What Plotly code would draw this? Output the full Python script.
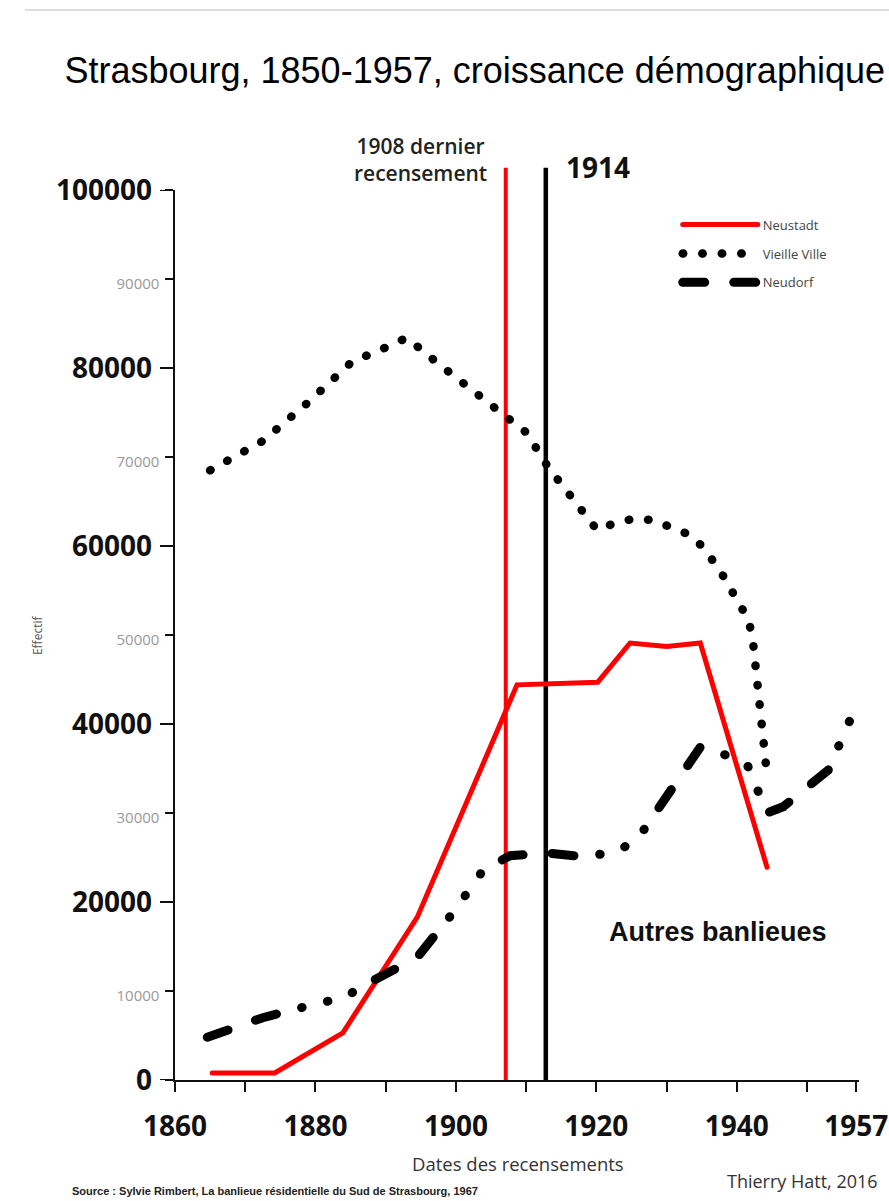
import plotly.graph_objects as go

# ---------------- data ----------------
neustadt_years = [1865.3, 1874.2, 1883.9, 1894.5, 1908.7, 1920.2, 1924.8, 1930.0, 1934.8, 1944.3]
neustadt_vals = [800, 800, 5300, 18300, 44400, 44700, 49100, 48700, 49100, 23900]

vieille_years = [1865.0, 1872.5, 1878.9, 1885.2, 1890.3, 1893.0, 1897.0, 1901.3, 1905.9, 1910.1,
                 1913.1, 1916.7, 1920.1, 1922.7, 1925.5, 1928.1, 1930.9, 1933.5, 1935.5, 1938.6,
                 1940.0, 1941.5, 1942.2, 1942.5, 1942.9, 1943.7, 1944.3]
vieille_vals = [68500, 71800, 76100, 80700, 82400, 83400, 80800, 78100, 75400, 72700,
                68900, 65300, 61800, 62600, 63100, 62900, 62100, 61200, 59600, 56000,
                53900, 52000, 50000, 47800, 43000, 38500, 34300]

neudorf_years = [1864.6, 1872.5, 1876.8, 1884.1, 1887.6, 1894.5, 1899.6, 1903.9, 1907.7, 1913.1,
                 1918.1, 1922.7, 1925.8, 1930.2, 1934.8, 1937.3, 1941.5, 1944.3, 1946.6, 1953.0,
                 1956.1, 1957.0]
neudorf_vals = [4800, 7000, 7900, 9300, 10900, 13800, 18800, 23600, 25200, 25500,
                25100, 25600, 27000, 32000, 37400, 36900, 35400, 30000, 30700, 34800,
                40400, 42700]

event_years = [1907.1, 1912.8]
event_labels = ["1908 dernier<br>recensement", "1914"]

x_tickvals = [1860, 1870, 1880, 1890, 1900, 1910, 1920, 1930, 1940, 1950, 1957]
x_ticktext = ["1860", "", "1880", "", "1900", "", "1920", "", "1940", "", "1957"]
y_tickvals = [0, 10000, 20000, 30000, 40000, 50000, 60000, 70000, 80000, 90000, 100000]

# ---------------- figure ----------------
BIG = "Open Sans"
W, H = 889, 1201
ML, MR, MT, MB = 175, 30, 190, 121
PW = W - ML - MR

fig = go.Figure()

fig.add_trace(go.Scatter(x=neustadt_years, y=neustadt_vals, name="Neustadt", mode="lines",
                         legendgroup="a", line=dict(color="#ff0000", width=5)))
fig.add_trace(go.Scatter(x=vieille_years, y=vieille_vals, name="Vieille Ville", mode="lines",
                         legendgroup="b",
                         line=dict(color="#000000", width=8.5, dash="0.5px,19px")))
fig.add_trace(go.Scatter(x=neudorf_years, y=neudorf_vals, name="Neudorf", mode="lines",
                         legendgroup="c",
                         line=dict(color="#000000", width=9,
                                   dash="22px,29px,22px,26px,0.5px,26px,0.5px,26px,0.5px,26px")))

# vertical event lines
for yr, col, w in zip(event_years, ["#ff0000", "#000000"], [4, 4.5]):
    fig.add_shape(type="line", xref="x", yref="paper", x0=yr, x1=yr, y0=0, y1=1.025,
                  line=dict(color=col, width=w), layer="below")

# longer tick marks for the labelled (bold) y values
for v in y_tickvals:
    if v % 20000 == 0:
        fig.add_shape(type="line", xref="paper", yref="y", x0=-15.0 / PW, x1=0, y0=v, y1=v,
                      line=dict(color="#111", width=2))

fig.add_annotation(x=event_years[0], y=1.034, xref="x", yref="paper", text=event_labels[0],
                   showarrow=False, xanchor="right", yanchor="middle", xshift=-17, align="center",
                   font=dict(family=BIG, size=21, color="#222", weight=600))
fig.add_annotation(x=event_years[1], y=1.026, xref="x", yref="paper", text=event_labels[1],
                   showarrow=False, xanchor="left", yanchor="middle", xshift=18,
                   font=dict(family=BIG, size=28, color="#111", weight=700))

fig.add_annotation(x=1937.3, y=16600, xref="x", yref="y", text="Autres banlieues",
                   showarrow=False, font=dict(family="Liberation Sans", size=27, color="#111", weight=700))

fig.add_annotation(x=-0.217, y=0.5, xref="paper", yref="paper", text="Effectif", textangle=-90,
                   showarrow=False, font=dict(family=BIG, size=12, color="#555"))
fig.add_annotation(x=0.501, y=-0.110, xref="paper", yref="paper", text="Dates des recensements",
                   showarrow=False, font=dict(family=BIG, size=18.5, color="#333"))
fig.add_annotation(x=1.031, y=-0.129, xref="paper", yref="paper", text="Thierry Hatt, 2016",
                   showarrow=False, xanchor="right", font=dict(family=BIG, size=18, color="#333"))
fig.add_annotation(x=-0.153, y=-0.1337, xref="paper", yref="paper",
                   text="Source : Sylvie Rimbert, La banlieue résidentielle du Sud de Strasbourg, 1967",
                   showarrow=False, xanchor="left",
                   font=dict(family="Liberation Sans", size=11, color="#222", weight=700))

# faint frame line at top
fig.add_shape(type="line", xref="paper", yref="paper", x0=-0.219, x1=1.05, y0=1.2022, y1=1.2022,
              line=dict(color="#d0d0d0", width=1.5))

y_ticktext = []
for v in y_tickvals:
    if v % 20000 == 0:
        y_ticktext.append(str(v) + "\u00a0")
    else:
        y_ticktext.append('<span style="font-size:15px;font-weight:normal;color:#999">%d</span>' % v)

fig.update_layout(
    width=W, height=H,
    margin=dict(l=ML, r=MR, t=MT, b=MB, autoexpand=False),
    paper_bgcolor="white", plot_bgcolor="white",
    title=dict(text="Strasbourg, 1850-1957, croissance démographique",
               x=0.534, xanchor="center", y=1 - 70 / H, yanchor="middle", xref="container",
               font=dict(family="Liberation Sans", size=36, color="#000")),
    showlegend=True,
    legend=dict(x=0.735, y=0.978, xanchor="left", yanchor="top", bgcolor="rgba(0,0,0,0)",
                font=dict(family=BIG, size=13, color="#444"), tracegroupgap=9,
                traceorder="grouped", itemwidth=75),
    xaxis=dict(range=[1860, 1957.4], tickvals=x_tickvals, ticktext=x_ticktext, automargin=False,
               showgrid=False, zeroline=False, showline=True, linecolor="#111", linewidth=2,
               ticks="outside", ticklen=10, tickwidth=2, tickcolor="#111",
               ticklabelstandoff=10,
               tickfont=dict(family=BIG, size=28, color="#111", weight=700)),
    yaxis=dict(range=[0, 100000], tickvals=y_tickvals, ticktext=y_ticktext, automargin=False,
               showgrid=False, zeroline=False, showline=True, linecolor="#111", linewidth=2,
               ticks="outside", ticklen=8, tickwidth=2, tickcolor="#111",
               ticklabelstandoff=0,
               tickfont=dict(family=BIG, size=28, color="#111", weight=700)),
)

post = """
document.documentElement.style.margin = '0';
document.body.style.margin = '0';
document.body.style.overflow = 'hidden';
var gd = document.getElementById('{plot_id}');
function roundCaps(){
  gd.querySelectorAll('path.js-line').forEach(function(p){ p.style.strokeLinecap = 'round'; });
}
roundCaps();
gd.on('plotly_afterplot', roundCaps);
"""

fig.write_html("out.html", post_script=post, config={"displayModeBar": False})
